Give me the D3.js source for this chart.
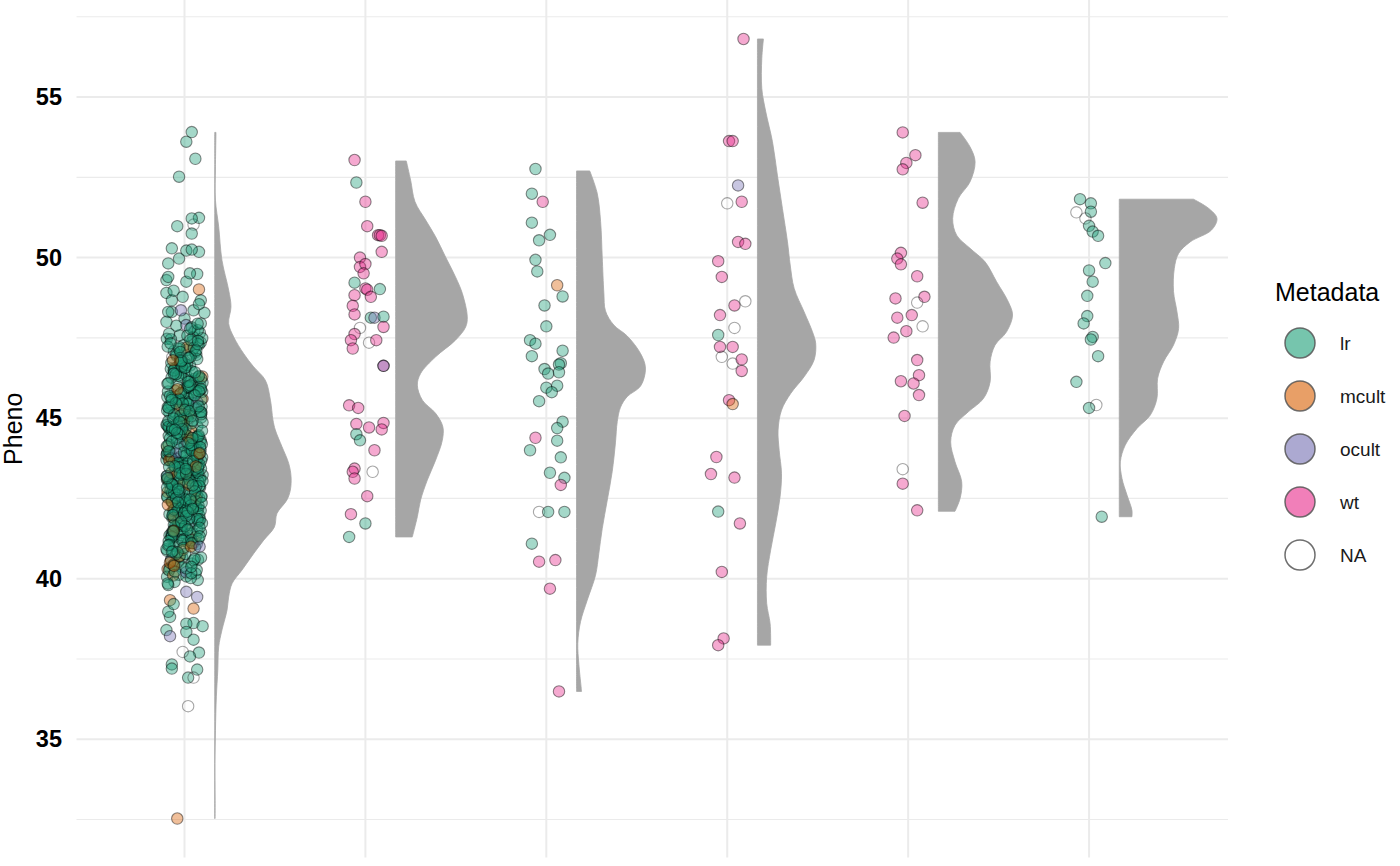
<!DOCTYPE html>
<html><head><meta charset="utf-8">
<script src="https://cdn.jsdelivr.net/npm/d3@7"></script>
<style>html,body{margin:0;padding:0;background:#fff;}svg{display:block;font-family:"Liberation Sans",Arial,Helvetica,sans-serif;}</style>
</head><body>
<svg id="chart" width="1400" height="866"></svg>
<script>
// ---------------- DATA ----------------
const groups = [1, 2, 3, 4, 5, 6];
const categories = ["lr", "mcult", "ocult", "wt", "NA"];
const categoryColors = ["#1B9E77", "#D95F02", "#7570B3", "#E7298A", null];
const yTicksMajor = [35, 40, 45, 50, 55];
const yTicksMinor = [32.5, 37.5, 42.5, 47.5, 52.5, 57.5];
const yLabel = "Pheno";
const legendTitle = "Metadata";

// Group 1: clearly separated points [value, category, jitter]
const g1Points = [
 [53.91,"lr",0.04],[53.61,"lr",0.01],[53.08,"lr",0.06],[52.52,"lr",-0.03],[51.24,"lr",0.08],[51.22,"lr",0.04],
 [51.03,"NA",0.05],[50.98,"lr",-0.04],[50.75,"lr",0.04],[50.29,"lr",-0.07],[50.22,"lr",0.01],[50.25,"lr",0.04],
 [50.18,"lr",0.08],[49.97,"lr",-0.03],[49.82,"lr",-0.09],[49.51,"lr",0.03],[49.49,"lr",0.07],[49.40,"lr",-0.09],
 [49.30,"lr",-0.1],[49.25,"lr",0.01],[49.01,"mcult",0.08],[48.97,"lr",-0.06],[48.90,"lr",-0.1],[48.78,"lr",-0.01],
 [48.67,"lr",-0.07],[48.67,"lr",0.09],[48.55,"lr",0.08],[48.36,"ocult",-0.02],[48.36,"lr",0.05],[48.31,"lr",-0.09],
 [48.31,"lr",-0.07],[48.28,"lr",0.11],[48.10,"lr",0],[48.00,"lr",-0.1],[47.95,"lr",0.09],
 [39.80,"lr",-0.09],[39.59,"ocult",0.01],[39.43,"ocult",0.07],[39.33,"mcult",-0.08],[39.21,"lr",-0.06],
 [39.07,"mcult",0.05],[38.97,"lr",-0.09],[38.81,"lr",-0.08],[38.60,"lr",0.01],[38.62,"lr",0.05],[38.52,"lr",0.1],
 [38.40,"lr",-0.1],[38.21,"ocult",-0.08],[38.34,"lr",0.01],[38.10,"lr",0.05],[37.72,"NA",-0.01],[37.58,"lr",0.03],
 [37.70,"lr",0.08],[37.33,"lr",-0.07],[37.20,"lr",-0.07],[37.17,"lr",0.07],[36.92,"lr",0.02],[36.92,"NA",0.05],
 [36.03,"NA",0.02],[32.53,"mcult",-0.04]
];
// Group 1: dense central cluster (values only, jittered like geom_jitter)
const g1BulkLr = [
 47.94,47.88,47.83,47.79,47.74,47.71,47.66,47.63,47.57,47.52,
 47.49,47.47,47.44,47.41,47.38,47.36,47.33,47.29,47.27,47.23,47.19,47.16,47.13,47.11,47.09,47.04,47.01,
 46.97,46.94,46.91,46.87,46.84,46.81,46.77,46.74,46.71,46.69,46.66,46.63,46.61,46.57,46.55,46.54,46.51,46.49,46.46,46.43,46.41,46.37,46.34,46.31,46.29,46.28,46.26,46.23,46.19,46.17,46.13,46.11,46.07,46.04,46.02,46.01,
 45.99,45.97,45.94,45.92,45.89,45.87,45.84,45.83,45.82,45.79,45.77,45.74,45.72,45.69,45.67,45.64,45.62,45.61,45.59,45.57,45.54,45.52,45.49,45.47,45.46,45.44,45.42,45.39,45.37,45.35,45.32,45.29,45.27,45.24,45.22,45.19,45.17,45.14,45.12,45.11,45.08,45.06,45.03,45.01,
 44.99,44.96,44.94,44.92,44.89,44.87,44.85,44.84,44.82,44.8,44.78,44.75,44.73,44.71,44.68,44.66,44.64,44.63,44.61,44.59,44.57,44.54,44.52,44.5,44.47,44.45,44.44,44.43,44.4,44.38,44.36,44.33,44.31,44.29,44.26,44.24,44.22,44.21,44.19,44.17,44.15,44.12,44.1,44.08,44.07,44.05,44.03,44.01,
 43.98,43.96,43.94,43.92,43.9,43.88,43.86,43.85,43.84,43.82,43.8,43.78,43.76,43.74,43.72,43.7,43.69,43.68,43.66,43.64,43.62,43.6,43.58,43.56,43.54,43.52,43.51,43.5,43.48,43.46,43.44,43.42,43.4,43.38,43.37,43.36,43.34,43.32,43.3,43.28,43.27,43.26,43.24,43.22,43.2,43.18,43.16,43.14,43.13,43.12,43.1,43.08,43.06,43.04,43.02,43.01,
 42.99,42.97,42.95,42.93,42.91,42.89,42.87,42.85,42.83,42.81,42.79,42.77,42.75,42.74,42.73,42.71,42.69,42.67,42.65,42.63,42.61,42.59,42.58,42.57,42.55,42.53,42.51,42.49,42.47,42.45,42.43,42.41,42.39,42.37,42.36,42.35,42.33,42.31,42.29,42.27,42.25,42.23,42.21,42.19,42.17,42.15,42.13,42.12,42.11,42.09,42.07,42.05,42.03,42.01,
 41.98,41.95,41.92,41.89,41.88,41.86,41.83,41.8,41.77,41.74,41.71,41.68,41.65,41.64,41.62,41.59,41.56,41.53,41.5,41.47,41.44,41.43,41.41,41.38,41.35,41.32,41.29,41.27,41.26,41.23,41.2,41.17,41.14,41.11,41.08,41.06,41.05,41.02,
 40.97,40.92,40.87,40.84,40.82,40.77,40.72,40.67,40.62,40.59,40.57,40.52,40.47,40.42,40.37,40.33,40.32,40.27,40.22,40.17,40.12,40.07,40.02,
 39.96,39.9,39.85
];
const g1BulkLrMore = [
 47.58,47.46,47.31,47.21,47.06,46.99,46.88,46.79,46.72,46.64,46.58,46.47,46.39,46.32,46.24,46.16,46.09,
 45.98,45.91,45.85,45.78,45.71,45.66,45.58,45.51,45.43,45.36,45.31,45.26,45.18,45.13,45.07,45.02,
 44.97,44.91,44.86,44.79,44.74,44.67,44.62,44.56,44.49,44.42,44.37,44.32,44.27,44.18,44.13,44.06,44.02,
 43.97,43.93,43.87,43.83,43.77,43.73,43.67,43.63,43.57,43.53,43.47,43.43,43.39,43.33,43.29,43.23,43.19,43.15,43.09,43.05,
 42.98,42.94,42.88,42.84,42.78,42.72,42.68,42.62,42.56,42.52,42.46,42.42,42.38,42.32,42.28,42.22,42.18,42.14,42.08,42.04,
 41.97,41.91,41.85,41.79,41.73,41.67,41.61,41.55,41.49,41.42,41.36,41.31,41.24,41.18,41.12,41.04,
 40.96,40.86,40.76,40.66,40.56,40.46,40.36,40.26,40.16,40.06
];
const g1BulkMcult = [47.2,46.8,46.3,45.9,45.6,45.3,45.1,44.9,44.8,44.6,44.3,44.1,43.9,43.7,43.5,43.3,43.1,43.0,42.9,42.7,42.5,42.4,42.3,42.1,41.9,41.7,41.6,41.5,41.3,41.1,40.9,40.7,40.5,40.3,40.1,44.45,43.25,42.2,41.0,40.4];
const g1BulkOcult = [47.9,46.4,45.5,44.7,44.2,43.9,43.2,42.6,42.0,41.8,41.4,41.0,40.6,40.2];
const g1BulkNA = [46.9,45.2,43.6,41.2];

const g2Points = [
 [53.04,"wt",-0.06],[52.34,"lr",-0.05],[51.74,"wt",0],[50.98,"wt",0.01],[50.70,"wt",0.07],[50.70,"wt",0.08],[50.68,"wt",0.09],
 [50.18,"wt",0.09],[50.00,"wt",-0.03],[49.71,"wt",-0.03],[49.80,"wt",0],[49.51,"wt",-0.01],[49.22,"lr",-0.06],
 [49.04,"wt",0],[49.00,"wt",0.01],[49.02,"lr",0.08],[48.83,"wt",-0.06],[48.78,"wt",0.03],[48.50,"wt",-0.07],[48.23,"wt",-0.06],
 [48.13,"lr",0.03],[48.13,"ocult",0.05],[48.16,"lr",0.1],[47.84,"wt",0.1],[47.81,"NA",-0.03],[47.62,"wt",-0.06],[47.43,"wt",-0.08],
 [47.17,"wt",-0.07],[47.35,"NA",0.02],[47.43,"wt",0.06],[46.63,"wt",0.1],[46.63,"ocult",0.1],[45.40,"wt",-0.09],[45.32,"wt",-0.04],
 [44.82,"wt",-0.05],[44.71,"wt",0.02],[44.85,"wt",0.1],[44.65,"wt",0.09],[44.50,"lr",-0.05],[44.31,"lr",-0.03],[44.00,"wt",0.05],
 [43.43,"wt",-0.06],[43.33,"wt",-0.07],[43.12,"wt",-0.06],[43.33,"NA",0.04],[42.57,"wt",0.01],[42.01,"wt",-0.08],[41.72,"lr",0],[41.30,"lr",-0.09]
];
const g3Points = [
 [52.76,"lr",-0.06],[51.99,"lr",-0.08],[51.74,"wt",-0.02],[51.09,"lr",-0.08],[50.71,"lr",0.02],[50.54,"lr",-0.04],[49.93,"lr",-0.06],
 [49.57,"lr",-0.05],[49.14,"mcult",0.06],[48.79,"lr",0.09],[48.51,"lr",-0.01],[47.86,"lr",0],[47.43,"lr",-0.09],[47.32,"lr",-0.06],
 [46.93,"lr",-0.08],[47.10,"lr",0.09],[46.71,"lr",0.08],[46.67,"lr",0.07],[46.53,"lr",-0.01],[46.39,"lr",0.01],[46.43,"lr",0.07],
 [45.95,"lr",0],[46.01,"lr",0.06],[45.81,"lr",0.03],[45.53,"lr",-0.04],[44.89,"lr",0.09],[44.69,"lr",0.06],[44.39,"wt",-0.06],
 [44.30,"lr",0.06],[44.00,"lr",-0.09],[43.78,"lr",0.08],[43.30,"lr",0.02],[43.14,"lr",0.1],[42.92,"wt",0.08],[42.08,"NA",-0.04],
 [42.08,"lr",0.01],[42.08,"lr",0.1],[41.09,"lr",-0.08],[40.53,"wt",-0.04],[40.58,"wt",0.05],[39.69,"wt",0.02],[36.49,"wt",0.07]
];
const g4Points = [
 [56.81,"wt",0.09],[53.63,"wt",0.01],[53.63,"wt",0.03],[52.25,"ocult",0.06],[51.69,"NA",0],[51.74,"wt",0.08],[50.49,"wt",0.06],
 [50.43,"wt",0.1],[49.89,"wt",-0.05],[49.40,"wt",-0.03],[48.64,"NA",0.1],[48.51,"wt",0.04],[48.21,"wt",-0.04],[47.81,"NA",0.04],
 [47.59,"lr",-0.05],[47.22,"wt",-0.04],[47.22,"wt",0.03],[46.91,"NA",-0.03],[46.70,"NA",0.03],[46.83,"wt",0.08],[46.47,"wt",0.08],
 [45.56,"wt",0.01],[45.44,"mcult",0.03],[43.79,"wt",-0.06],[43.26,"wt",-0.09],[43.15,"wt",0.04],[42.09,"lr",-0.05],[41.72,"wt",0.07],
 [40.21,"wt",-0.03],[38.14,"wt",-0.02],[37.93,"wt",-0.05]
];
const g5Points = [
 [53.90,"wt",-0.03],[53.19,"wt",0.04],[52.95,"wt",-0.01],[52.75,"wt",-0.03],[51.71,"wt",0.08],[50.15,"wt",-0.04],[49.97,"wt",-0.06],
 [49.79,"wt",-0.04],[49.42,"wt",0.05],[48.73,"wt",-0.07],[48.78,"wt",0.09],[48.60,"NA",0.05],[48.21,"wt",0.02],[48.13,"wt",-0.06],
 [47.86,"NA",0.08],[47.71,"wt",-0.01],[47.51,"wt",-0.08],[46.81,"wt",0.05],[46.34,"wt",0.06],[46.15,"wt",-0.04],[46.08,"wt",0.03],
 [45.72,"wt",0.06],[45.07,"wt",-0.02],[43.41,"NA",-0.03],[42.96,"wt",-0.03],[42.13,"wt",0.05]
];
const g6Points = [
 [51.82,"lr",-0.05],[51.69,"lr",0.01],[51.41,"NA",-0.07],[51.43,"lr",0.01],[51.22,"NA",-0.02],[50.99,"lr",0],[50.81,"lr",0.02],
 [50.68,"lr",0.05],[49.83,"lr",0.09],[49.60,"lr",0],[49.25,"lr",0.02],[48.81,"lr",-0.01],[48.18,"lr",-0.01],[47.95,"lr",-0.03],
 [47.53,"lr",0.02],[47.45,"lr",0.01],[46.93,"lr",0.05],[46.13,"lr",-0.07],[45.32,"lr",0],[45.41,"NA",0.04],[41.93,"lr",0.07]
];

// Half-violin density profiles [value, half-width in x units]
const g1Density = [[53.90,0.007],[52.83,0.004],[51.79,0.004],[50.96,0.022],[49.92,0.040],[48.99,0.077],[48.47,0.090],[47.95,0.077],[47.53,0.105],[47.01,0.160],[46.60,0.215],[46.18,0.280],[45.56,0.308],[44.94,0.322],[44.63,0.335],[44.11,0.372],[43.59,0.409],[43.17,0.422],[42.76,0.418],[42.45,0.399],[42.03,0.344],[41.61,0.330],[41.20,0.271],[40.78,0.215],[40.27,0.151],[39.85,0.096],[39.43,0.077],[39.02,0.068],[38.40,0.040],[37.88,0.022],[37.15,0.017],[36.32,0.009],[35.28,0.004],[34.24,0.001],[33.20,0.002],[32.53,0.002]];
const g2Density = [[53.01,0.059],[52.41,0.083],[51.74,0.107],[51.17,0.166],[50.65,0.221],[50.02,0.276],[49.40,0.331],[48.88,0.369],[48.16,0.396],[47.84,0.387],[47.43,0.331],[46.91,0.221],[46.39,0.138],[46.03,0.120],[45.56,0.148],[45.15,0.221],[44.73,0.261],[44.31,0.258],[43.69,0.221],[43.07,0.175],[42.45,0.138],[41.93,0.120],[41.30,0.092]];
const g3Density = [[52.70,0.073],[52.01,0.114],[51.12,0.133],[50.01,0.142],[48.90,0.151],[48.34,0.160],[47.90,0.206],[47.56,0.280],[47.01,0.354],[46.56,0.381],[46.00,0.354],[45.67,0.280],[45.34,0.243],[44.89,0.225],[44.23,0.215],[43.33,0.197],[42.45,0.170],[41.56,0.142],[40.78,0.123],[40.11,0.105],[39.33,0.059],[38.66,0.022],[37.99,0.007],[37.33,0.013],[36.49,0.028]];
const g4Density = [[56.81,0.033],[56.20,0.024],[55.27,0.024],[54.54,0.046],[53.61,0.083],[52.57,0.110],[51.53,0.138],[50.49,0.166],[49.77,0.181],[49.04,0.203],[48.31,0.258],[47.69,0.304],[47.33,0.322],[46.81,0.313],[46.29,0.258],[45.77,0.184],[45.25,0.133],[44.63,0.114],[44.00,0.120],[43.28,0.133],[42.55,0.125],[41.72,0.101],[40.89,0.073],[40.06,0.051],[39.23,0.051],[38.60,0.070],[37.93,0.073]];
const g5Density = [[53.90,0.120],[53.45,0.175],[52.99,0.203],[52.36,0.175],[51.84,0.110],[51.22,0.079],[50.70,0.101],[50.29,0.175],[49.87,0.258],[49.25,0.322],[48.62,0.387],[48.21,0.410],[47.69,0.377],[47.27,0.313],[46.76,0.286],[46.13,0.286],[45.61,0.249],[45.20,0.166],[44.78,0.092],[44.26,0.068],[43.64,0.092],[43.02,0.129],[42.50,0.120],[42.10,0.092]];
const g6Density = [[51.82,0.410],[51.53,0.495],[51.22,0.540],[50.86,0.510],[50.49,0.392],[50.13,0.328],[49.66,0.304],[48.94,0.300],[48.31,0.319],[47.79,0.328],[47.28,0.300],[46.76,0.245],[46.24,0.212],[45.61,0.208],[45.09,0.171],[44.68,0.098],[44.16,0.033],[43.64,0.006],[43.12,0.015],[42.60,0.043],[42.13,0.070],[41.93,0.070]];

// ---------------- BUILD ----------------
const W = 1400, H = 866;
const panel = {left: 76.5, right: 1228, top: 0, bottom: 857.5};
const svg = d3.select("#chart");
svg.append("rect").attr("width", W).attr("height", H).attr("fill", "#fff");

const allPointSets = [g1Points, g2Points, g3Points, g4Points, g5Points, g6Points];
const densities = [g1Density, g2Density, g3Density, g4Density, g5Density, g6Density];

const allVals = [].concat(...allPointSets.map(s => s.map(d => d[0])), g1BulkLr, g1BulkLrMore, g1BulkMcult, g1BulkOcult, g1BulkNA);
const [vmin, vmax] = d3.extent(allVals);
const pad = (vmax - vmin) * 0.05;
const y = d3.scaleLinear().domain([vmin - pad, vmax + pad]).range([panel.bottom, panel.top]);
const x = d3.scaleLinear().domain([0.403, 6.768]).range([panel.left, panel.right]);
const color = d3.scaleOrdinal().domain(categories).range(categoryColors);

// gridlines
const grid = svg.append("g");
grid.selectAll(".ymin").data(yTicksMinor).join("line")
  .attr("x1", panel.left).attr("x2", panel.right)
  .attr("y1", d => y(d)).attr("y2", d => y(d))
  .attr("stroke", "#EBEBEB").attr("stroke-width", 1.1);
grid.selectAll(".ymaj").data(yTicksMajor).join("line")
  .attr("x1", panel.left).attr("x2", panel.right)
  .attr("y1", d => y(d)).attr("y2", d => y(d))
  .attr("stroke", "#EBEBEB").attr("stroke-width", 2);
grid.selectAll(".xmaj").data(groups).join("line")
  .attr("x1", d => x(d)).attr("x2", d => x(d))
  .attr("y1", panel.top).attr("y2", panel.bottom)
  .attr("stroke", "#EBEBEB").attr("stroke-width", 2);

// y axis tick labels
const yAxis = d3.axisLeft(y).tickValues(yTicksMajor).tickSize(0).tickPadding(0).tickFormat(d3.format("d"));
const gy = svg.append("g").attr("transform", `translate(62,0)`).call(yAxis);
gy.select(".domain").remove();
gy.selectAll("text").attr("font-size", 23.5).attr("font-weight", "bold").attr("fill", "#000")
  .attr("font-family", "'Liberation Sans',Arial,sans-serif");

svg.append("text").attr("transform", `translate(22,${(panel.top + panel.bottom) / 2}) rotate(-90)`)
  .attr("text-anchor", "middle").attr("font-size", 25).attr("fill", "#000").text(yLabel);

// half violins
const violinOffset = 0.167;
const area = d3.area()
  .y(d => y(d.v))
  .x0(d => x(d.g + violinOffset))
  .x1(d => x(d.g + violinOffset + d.w))
  .curve(d3.curveCatmullRom.alpha(0.5));
densities.forEach((dens, i) => {
  const g = groups[i];
  const pts = dens.map(d => ({v: d[0], w: d[1], g}));
  svg.append("path").datum(pts).attr("d", area)
    .attr("fill", "#A6A6A6").attr("stroke", "#A6A6A6").attr("stroke-width", 0.8);
});

// points
const rng = d3.randomLcg(0.4271);
const jit = d3.randomUniform.source(rng)(-0.1, 0.1);
let g1All = g1Points.map(d => ({v: d[0], c: d[1], j: d[2], g: 1}));
const addBulk = (arr, c) => arr.forEach(v => g1All.push({v, c, j: jit(), g: 1}));
addBulk(g1BulkLr, "lr"); addBulk(g1BulkLrMore, "lr"); addBulk(g1BulkMcult, "mcult"); addBulk(g1BulkOcult, "ocult"); addBulk(g1BulkNA, "NA");
g1All = d3.shuffler(d3.randomLcg(0.913))(g1All);
let pointsData = g1All;
allPointSets.slice(1).forEach((s, i) => {
  pointsData = pointsData.concat(s.map(d => ({v: d[0], c: d[1], j: d[2], g: groups[i + 1]})));
});

svg.append("g").selectAll("circle").data(pointsData).join("circle")
  .attr("cx", d => x(d.g + d.j))
  .attr("cy", d => y(d.v))
  .attr("r", 5.7)
  .attr("fill", d => color(d.c) || "none")
  .attr("fill-opacity", 0.4)
  .attr("stroke", "#000")
  .attr("stroke-opacity", d => d.c === "NA" ? 0.35 : 0.45)
  .attr("stroke-width", 1.1);

// legend
const leg = svg.append("g");
leg.append("text").attr("x", 1275).attr("y", 301).attr("font-size", 25).attr("fill", "#000").text(legendTitle);
const items = leg.selectAll(".it").data(categories).join("g")
  .attr("transform", (d, i) => `translate(1300,${343 + i * 53})`);
items.append("circle").attr("r", 15)
  .attr("fill", d => color(d) || "#fff")
  .attr("fill-opacity", d => color(d) ? 0.6 : 1)
  .attr("stroke", "#555").attr("stroke-opacity", 0.85).attr("stroke-width", 1.5);
items.append("text").attr("x", 40).attr("dy", "0.35em").attr("font-size", 19).attr("fill", "#1a1a1a").text(d => d);
</script>
</body></html>
